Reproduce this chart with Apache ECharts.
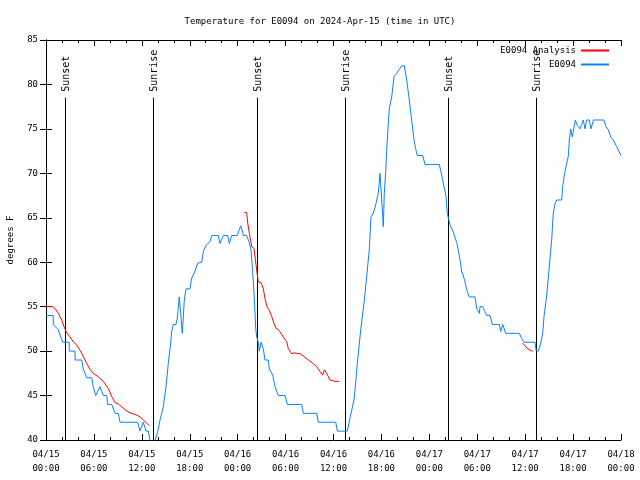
<!DOCTYPE html>
<html><head><meta charset="utf-8">
<script src="https://cdn.jsdelivr.net/npm/echarts@6/dist/echarts.min.js"></script>
<style>html,body{margin:0;padding:0;background:#fff}#c{width:640px;height:480px}</style>
</head><body><div id="c"></div>
<script>
// hours since 2024-04-15 00:00 UTC
const xTickLabels = ['04/15\n00:00','04/15\n06:00','04/15\n12:00','04/15\n18:00','04/16\n00:00','04/16\n06:00','04/16\n12:00','04/16\n18:00','04/17\n00:00','04/17\n06:00','04/17\n12:00','04/17\n18:00','04/18\n00:00'];
const sunTimes = [2.42, 13.44, 26.45, 37.48, 50.38, 61.4];
const sunLabels = ['Sunset','Sunrise','Sunset','Sunrise','Sunset','Sunrise'];
const sunLineTop = 78.5;

const obsData = [[0,54],[0.9,54],[0.92,53],[1.54,52.4],[1.84,51.6],[2.09,51],[2.9,51],[2.92,50],[3.63,50],[3.65,49],[4.47,49],[4.67,48],[5.1,47],[5.72,47],[5.92,46],[6.22,45],[6.76,46],[7.18,45],[7.6,45],[7.73,44],[8.23,44],[8.64,43],[9.05,43],[9.27,42],[11.48,42],[11.77,41],[12.18,42],[12.52,41],[12.81,41],[13.02,40],[13.2,39.5],[13.65,40],[13.94,40.75],[14.28,42.25],[14.69,43.75],[15.03,46],[15.31,48.6],[15.61,50.9],[15.74,52.2],[15.94,53],[16.28,53],[16.44,53.7],[16.69,56.1],[16.87,54.2],[16.99,52.75],[17.07,52],[17.32,55.75],[17.53,57],[18.03,57],[18.24,58.2],[18.66,59],[19.0,59.9],[19.5,60],[19.7,61.2],[20.04,61.9],[20.54,62.3],[20.75,63],[21.58,63],[21.79,62.1],[22.2,63],[22.75,63],[22.95,62.1],[23.25,63],[23.95,63],[24.21,63.7],[24.38,64.1],[24.63,63.4],[24.71,63],[25.13,63],[25.42,62.3],[25.67,61.4],[25.83,59.5],[26.05,56.5],[26.26,52.6],[26.38,51.6],[26.58,51],[26.71,50],[26.92,51],[27.21,50.3],[27.42,49],[27.84,49],[27.97,48],[28.39,47.3],[28.68,46],[29.09,45],[29.93,45],[30.22,44],[32.02,44],[32.22,43],[33.9,43],[34.1,42],[36.28,42],[36.48,41],[37.73,41],[38.07,42.5],[38.57,44.5],[38.69,45.6],[38.98,48.6],[39.41,52.4],[39.82,55.4],[40.07,57.6],[40.48,61.4],[40.69,65.1],[40.98,65.5],[41.32,66.6],[41.61,67.75],[41.82,70],[42.04,67],[42.24,64],[42.36,67.75],[42.54,70.2],[42.66,72.6],[42.86,75.6],[42.99,77.3],[43.29,78.6],[43.58,80.9],[43.91,81.25],[44.33,81.8],[44.54,82.1],[44.87,82.1],[45.17,80.5],[45.49,78.25],[45.79,76],[46.08,73.75],[46.33,72.6],[46.49,72],[47.17,72],[47.46,71],[49.25,71],[49.55,69.8],[49.84,68.5],[50.09,67.4],[50.25,65.5],[50.59,64.2],[51.0,63.4],[51.43,62.2],[51.63,61.4],[51.84,60.25],[52.05,59],[52.35,58.2],[52.6,57.25],[52.76,56.7],[53.01,56.1],[53.72,56.1],[53.93,54.8],[54.26,54.25],[54.35,55],[54.68,55],[54.88,54.6],[55.18,54],[55.6,54],[55.89,53],[56.76,53],[56.94,52.2],[57.19,53],[57.39,53],[57.56,52],[59.27,52],[59.57,51.4],[59.86,51],[61.23,51],[61.36,50.1],[61.65,50],[61.95,50.9],[62.2,52],[62.36,53.9],[62.7,56.3],[63.02,59.5],[63.32,62.5],[63.52,65.5],[63.74,66.6],[63.95,67],[64.57,67],[64.7,68.5],[64.9,69.8],[65.11,70.75],[65.4,71.9],[65.53,73.75],[65.7,75],[65.9,74.1],[66.1,74.1],[66.28,76],[66.53,75.4],[66.87,75],[67.28,76],[67.49,75],[67.7,76],[68.03,76],[68.25,75],[68.54,76],[69.87,76],[70.12,75.25],[70.41,74.9],[70.71,74.1],[71.04,73.75],[71.46,73],[72,72]];

const anaData1 = [[0,55],[0.84,55],[1.13,54.8],[1.54,54.25],[1.97,53.5],[2.25,52.75],[2.59,52.07],[3.0,51.6],[3.42,51.06],[3.84,50.7],[4.26,50.1],[4.67,49.4],[5.1,48.6],[5.51,47.95],[5.92,47.5],[6.55,47.1],[7.18,46.6],[7.8,45.8],[8.23,44.9],[8.64,44.2],[9.05,44.05],[9.48,43.75],[9.89,43.4],[10.52,43.07],[11.36,42.8],[11.77,42.6],[12.18,42.25],[12.61,41.9],[12.94,41.6]];
const anaData2 = [[24.83,65.6],[25.13,65.6],[25.26,64.4],[25.46,63.25],[25.76,61.75],[26.05,61.56],[26.21,60.4],[26.38,59.1],[26.58,57.8],[26.92,57.7],[27.21,57.06],[27.42,55.9],[27.71,54.9],[27.96,54.6],[28.26,53.9],[28.55,53.1],[28.8,52.6],[29.21,52.3],[29.71,51.6],[30.14,51.06],[30.34,50.3],[30.77,49.7],[31.05,49.8],[31.81,49.7],[32.22,49.45],[32.85,49],[33.47,48.6],[33.9,48.25],[34.31,47.7],[34.65,47.3],[34.85,47.9],[35.15,47.5],[35.56,46.75],[36.19,46.6],[36.73,46.6]];
const anaData3 = [[59.69,50.9],[60.27,50.3],[60.82,50],[60.94,50]];

const FONT = 'DejaVu Sans Mono';
const RED = '#ff0000', BLUE = '#0a80ff';
const chart = echarts.init(document.getElementById('c'), null, {renderer:'canvas'});
const axisCommon = {
  type:'value', min:0, max:72, interval:6,
  axisLine:{show:true, lineStyle:{color:'#000', width:1}},
  axisTick:{show:true, inside:true, length:6, lineStyle:{color:'#000'}},
  minorTick:{show:true, splitNumber:3, length:3, lineStyle:{color:'#000'}},
  splitLine:{show:false}
};
const anaSeries = (d) => ({type:'line', name:'E0094 Analysis', data:d, showSymbol:false, symbol:'none', lineStyle:{color:RED, width:1}, itemStyle:{color:RED}, xAxisIndex:0, yAxisIndex:0, z:2});
chart.setOption({
  animation:false,
  backgroundColor:'#fff',
  title:{text:'Temperature for E0094 on 2024-Apr-15 (time in UTC)', left:'center', top:12,
    textStyle:{fontFamily:FONT, fontSize:9, fontWeight:'normal', color:'#000'}},
  legend:[
    {data:['E0094 Analysis'], right:26, top:41, align:'right', itemWidth:28, itemHeight:2, icon:'rect',
     textStyle:{fontFamily:FONT, fontSize:9, color:'#000'}},
    {data:['E0094'], right:26, top:55, align:'right', itemWidth:28, itemHeight:2, icon:'rect',
     textStyle:{fontFamily:FONT, fontSize:9, color:'#000'}}
  ],
  grid:{left:46, right:19, top:40, bottom:40, show:false, containLabel:false, outerBoundsMode:'none'},
  xAxis:[
    Object.assign({}, axisCommon, {position:'bottom',
      axisLabel:{show:true, margin:8, fontFamily:FONT, fontSize:9, color:'#000', lineHeight:14,
        formatter:(v)=>xTickLabels[Math.round(v/6)]}}),
    Object.assign({}, axisCommon, {position:'top', axisLabel:{show:false}})
  ],
  yAxis:[
    {type:'value', min:40, max:85, interval:5, position:'left',
     name:'degrees F', nameLocation:'middle', nameRotate:90, nameGap:31,
     nameTextStyle:{fontFamily:FONT, fontSize:9, color:'#000'},
     axisLine:{show:true, lineStyle:{color:'#000'}},
     axisTick:{show:true, inside:true, length:6, lineStyle:{color:'#000'}},
     axisLabel:{fontFamily:FONT, fontSize:9, color:'#000', margin:8},
     splitLine:{show:false}},
    {type:'value', min:40, max:85, interval:5, position:'right',
     axisLine:{show:true, lineStyle:{color:'#000'}},
     axisTick:{show:true, inside:true, length:6, lineStyle:{color:'#000'}},
     axisLabel:{show:false}, splitLine:{show:false}}
  ],
  series:[
    {type:'custom', name:'sun', data:sunTimes.map((t,i)=>[t, i]), xAxisIndex:0, yAxisIndex:0, z:1, silent:true,
     renderItem:(params, api)=>{
       const t = api.value(0); const idx = api.value(1);
       const p0 = api.coord([t, 40]); const p1 = api.coord([t, sunLineTop]);
       const x = Math.round(p0[0]) + 0.5;
       return {type:'group', children:[
         {type:'line', shape:{x1:x, y1:p0[1], x2:x, y2:p1[1]}, style:{stroke:'#000', lineWidth:1}},
         {type:'text', x:x+1, y:p1[1]-6, rotation:Math.PI/2,
          style:{text:sunLabels[idx], font:'10px "DejaVu Sans Mono"', fill:'#000', align:'left', verticalAlign:'middle'}}
       ]};
     }},
    anaSeries(anaData1), anaSeries(anaData2), anaSeries(anaData3),
    {type:'line', name:'E0094', data:obsData, showSymbol:false, symbol:'none', lineStyle:{color:BLUE, width:1}, itemStyle:{color:BLUE}, xAxisIndex:0, yAxisIndex:0, z:3}
  ]
});
</script></body></html>
